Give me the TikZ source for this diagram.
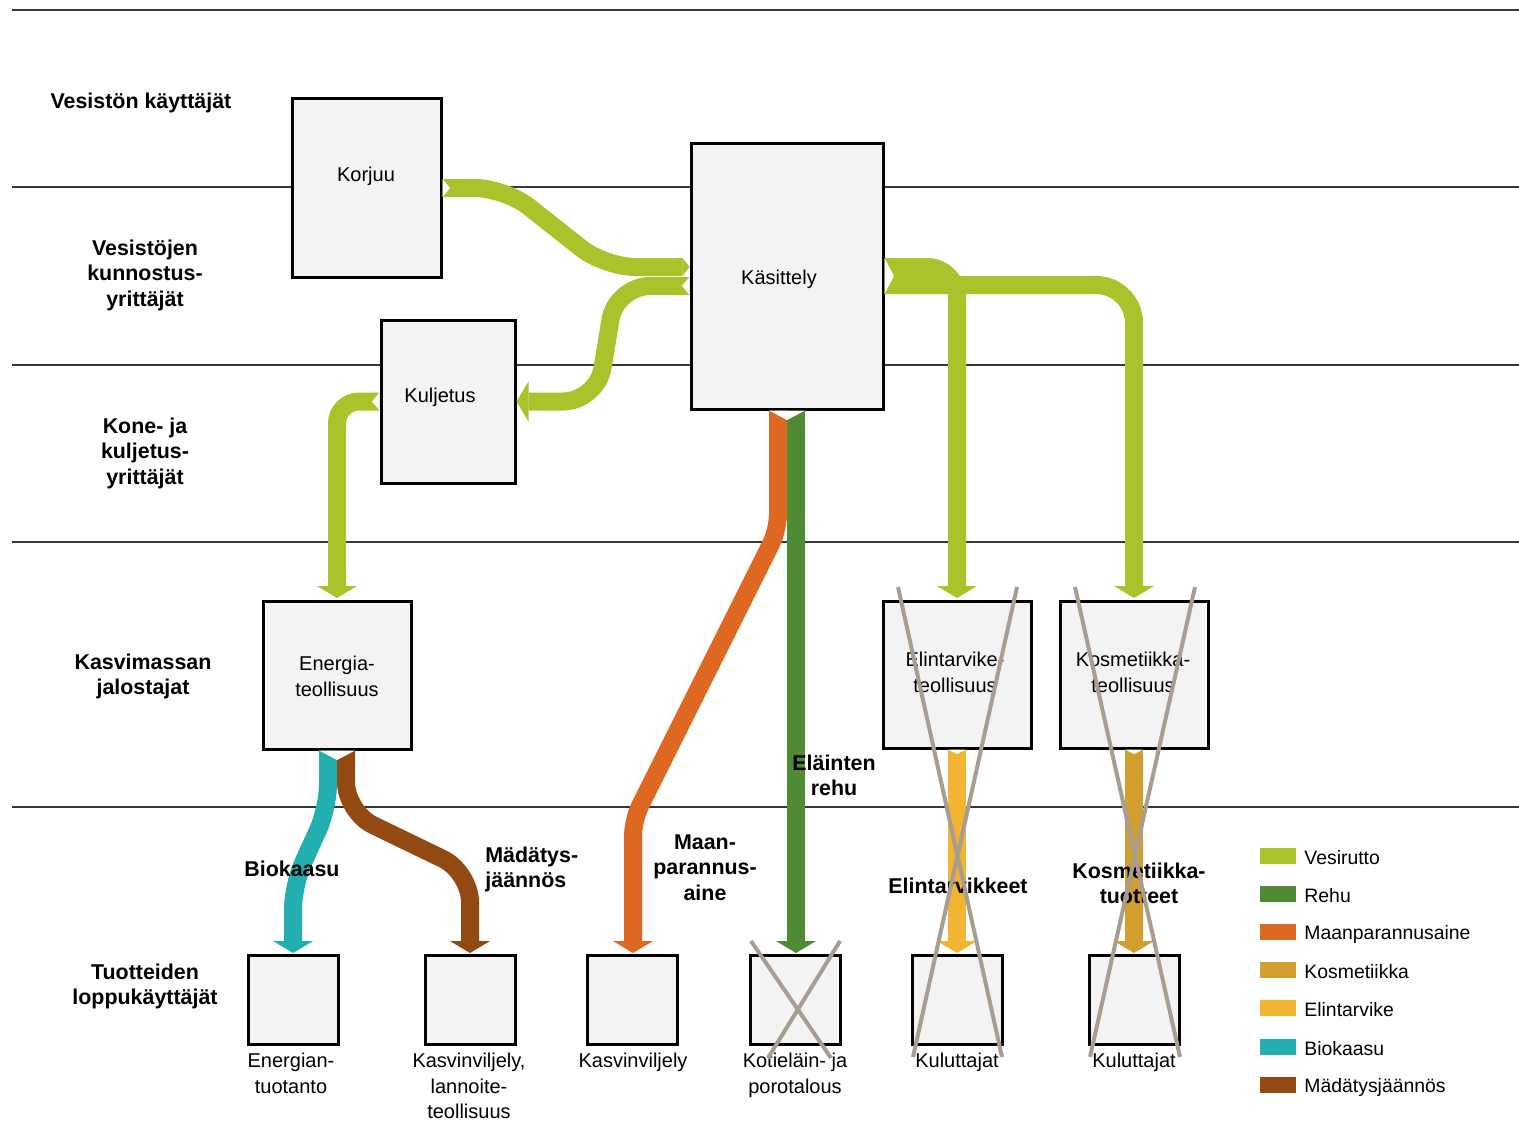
\documentclass[tikz,border=0pt]{standalone}
\usepackage{fontspec}
\setmainfont{Liberation Sans}
\usetikzlibrary{arrows.meta,calc}
\definecolor{vesi}{RGB}{170,195,42}
\definecolor{rehu}{RGB}{79,138,53}
\definecolor{maan}{RGB}{221,104,33}
\definecolor{kosm}{RGB}{210,158,46}
\definecolor{elin}{RGB}{241,181,51}
\definecolor{bio}{RGB}{35,174,176}
\definecolor{mad}{RGB}{147,74,18}
\definecolor{crossc}{RGB}{168,157,145}
\definecolor{boxfill}{RGB}{243,243,243}
\definecolor{sepc}{RGB}{55,55,55}
\begin{document}
\begin{tikzpicture}[x=0.5pt,y=-0.5pt,
  box/.style={draw=black, line width=1.5pt, fill=boxfill, inner sep=0pt, outer sep=0pt},
  grouplab/.style={font=\fontsize{10.7}{12.75}\selectfont\bfseries, align=center, inner sep=0pt},
  flowlab/.style={grouplab},
  boxtxt/.style={font=\fontsize{10}{12.75}\selectfont, align=center, inner sep=0pt},
  legtxt/.style={font=\fontsize{9.7}{12}\selectfont, inner sep=0pt, anchor=west},
  swatch/.style={minimum width=18pt, minimum height=8pt, inner sep=0pt, outer sep=0pt},
  band/.style={line width=9pt, draw=#1},
  head/.style={-{Triangle[width=20pt,length=6pt,line width=0pt]}},
  tiphead/.style={-{Triangle[width=9pt,length=3.5pt,line width=0pt]}},
  sepline/.style={draw=sepc, line width=1pt},
  xline/.style={draw=crossc, line width=2pt},
  notch/.style={fill=white},
]
\useasboundingbox (0,0) rectangle (1519,1121);
\fill[white] (0,0) rectangle (1519,1121);

% separator lines
\draw[sepline] (12,10) -- (1519,10);
\draw[sepline] (12,187) -- (1519,187);
\draw[sepline] (12,365) -- (1519,365);
\draw[sepline] (12,542) -- (1519,542);
\draw[sepline] (12,807) -- (1519,807);

% boxes
\node[box, minimum width=74.5pt, minimum height=89.5pt] (kor) at (366.5,187.5) {};
\node[box, minimum width=96pt, minimum height=133pt] (kas) at (787,276) {};
\node[box, minimum width=67pt, minimum height=81.5pt] (kul) at (448,401.5) {};
\node[box, minimum width=74pt, minimum height=74pt] (ene) at (337,675) {};
\node[box, minimum width=74pt, minimum height=73.5pt] (eli) at (957,674.5) {};
\node[box, minimum width=74pt, minimum height=73.5pt] (kos) at (1134,674.5) {};
\node[box, minimum width=45pt, minimum height=44.5pt] (b1) at (293,999.5) {};
\node[box, minimum width=45pt, minimum height=44.5pt] (b2) at (470,999.5) {};
\node[box, minimum width=45pt, minimum height=44.5pt] (b3) at (632,999.5) {};
\node[box, minimum width=45pt, minimum height=44.5pt] (b4) at (795,999.5) {};
\node[box, minimum width=45pt, minimum height=44.5pt] (b5) at (957.5,999.5) {};
\node[box, minimum width=45pt, minimum height=44.5pt] (b6) at (1134.5,999.5) {};

% flows
\draw[band=vesi, tiphead, rounded corners=15pt] ($(kor.east)+(1.5,0.5)$) -- (505,188) -- (605,267) -- ($(kas.west)+(-1.5,-9)$);
\draw[band=vesi, head, rounded corners=17pt] ($(kas.west)+(-1.5,10)$) -- (616,286) -- (597,401.5) -- ($(kul.east)+(1.5,0)$);
\draw[band=vesi, head, rounded corners=11pt] ($(kul.west)+(-1.5,0)$) -- (337,401.5) -- ($(ene.north)+(0,-3)$);
\draw[band=vesi, head, rounded corners=15pt] ($(kas.east)+(1.5,-9)$) -- (957,267) -- ($(eli.north)+(0,-3)$);
\draw[band=vesi, head, rounded corners=19pt] ($(kas.east)+(1.5,9)$) -- (1134,285) -- ($(kos.north)+(0,-3)$);
\draw[band=maan, head, rounded corners=8pt] ($(kas.south)+(-9,1.5)$) -- (778,530) -- (633,820) -- ($(b3.north)+(1,-2)$);
\draw[band=rehu, head] ($(kas.south)+(9,1.5)$) -- ($(b4.north)+(1,-2)$);
\draw[band=bio, head, rounded corners=12pt] ($(ene.south)+(-9,1.5)$) -- (328,808) -- (293,885) -- ($(b1.north)+(0,-2)$);
\draw[band=mad, head, rounded corners=15pt] ($(ene.south)+(9,1.5)$) -- (346,812) -- (470,872) -- ($(b2.north)+(0,-2)$);
\draw[band=elin, head] ($(eli.south)+(0,1.5)$) -- ($(b5.north)+(-0.5,-2)$);
\draw[band=kosm, head] ($(kos.south)+(0,1.5)$) -- ($(b6.north)+(-0.5,-2)$);

% tail notches
\fill[notch] (442.5,179) -- (450,188) -- (442.5,197) -- cycle;
\fill[notch] (689.5,277) -- (682,286) -- (689.5,295) -- cycle;
\fill[notch] (884.5,258) -- (894,276) -- (884.5,294) -- cycle;
\fill[notch] (379.5,392.5) -- (372,401.5) -- (379.5,410.5) -- cycle;
\fill[notch] (769,410.5) -- (787,420) -- (805,410.5) -- cycle;
\fill[notch] (319,750.5) -- (337,760) -- (355,750.5) -- cycle;
\fill[notch] (948,749.5) -- (957,754) -- (966,749.5) -- cycle;
\fill[notch] (1125,749.5) -- (1134,754) -- (1143,749.5) -- cycle;

% group labels
\node[grouplab] (g1) at (141,102.5) {Vesistön käyttäjät};
\node[grouplab] (g2) at (145,275) {Vesistöjen\\kunnostus-\\yrittäjät};
\node[grouplab] (g3) at (145,453) {Kone- ja\\kuljetus-\\yrittäjät};
\node[grouplab] (g4) at (143,676.5) {Kasvimassan\\jalostajat};
\node[grouplab] (g5) at (145,986.5) {Tuotteiden\\loppukäyttäjät};

% box texts
\node[boxtxt] (korT) at (366,176) {Korjuu};
\node[boxtxt] (kasT) at (779,279) {Käsittely};
\node[boxtxt] (kulT) at (440,397) {Kuljetus};
\node[boxtxt] (eneT) at (337,676.5) {Energia-\\teollisuus};
\node[boxtxt] (eliT) at (955,672.5) {Elintarvike-\\teollisuus};
\node[boxtxt] (kosT) at (1133,672.5) {Kosmetiikka-\\teollisuus};

% flow labels
\node[flowlab] (l1) at (292,869) {Biokaasu};
\node[flowlab, align=left, anchor=west] (l2) at (485,869.5) {Mädätys-\\jäännös};
\node[flowlab] (l3) at (705,867.5) {Maan-\\parannus-\\aine};
\node[flowlab] (l4) at (834,775.5) {Eläinten\\rehu};
\node[flowlab] (l5) at (958,886) {Elintarvikkeet};
\node[flowlab] (l6) at (1139,883.5) {Kosmetiikka-\\tuotteet};

% bottom labels
\node[boxtxt, anchor=north] (b1T) at (291,1053) {Energian-\\tuotanto};
\node[boxtxt, anchor=north] (b2T) at (469,1053) {Kasvinviljely,\\lannoite-\\teollisuus};
\node[boxtxt, anchor=north] (b3T) at (633,1053) {Kasvinviljely};
\node[boxtxt, anchor=north] (b4T) at (795,1053) {Kotieläin- ja\\porotalous};
\node[boxtxt, anchor=north] (b5T) at (957,1053) {Kuluttajat};
\node[boxtxt, anchor=north] (b6T) at (1134,1053) {Kuluttajat};

% legend
\node[swatch, fill=vesi] (s1) at (1278,856) {};
\node[legtxt] (t1) at (1304,858) {Vesirutto};
\node[swatch, fill=rehu] (s2) at (1278,894) {};
\node[legtxt] (t2) at (1304,896) {Rehu};
\node[swatch, fill=maan] (s3) at (1278,932) {};
\node[legtxt] (t3) at (1304,934) {Maanparannusaine};
\node[swatch, fill=kosm] (s4) at (1278,970) {};
\node[legtxt] (t4) at (1304,972) {Kosmetiikka};
\node[swatch, fill=elin] (s5) at (1278,1008) {};
\node[legtxt] (t5) at (1304,1010) {Elintarvike};
\node[swatch, fill=bio] (s6) at (1278,1047) {};
\node[legtxt] (t6) at (1304,1049) {Biokaasu};
\node[swatch, fill=mad] (s7) at (1278,1085) {};
\node[legtxt] (t7) at (1304,1087) {Mädätysjäännös};

% crosses
\draw[xline] (898,587) -- (1002,1057);
\draw[xline] (1017,587) -- (913,1057);
\draw[xline] (1075,587) -- (1180,1057);
\draw[xline] (1195,587) -- (1090,1057);
\draw[xline] (751,941) -- (831,1058);
\draw[xline] (840,941) -- (768,1058);
\end{tikzpicture}
\end{document}
